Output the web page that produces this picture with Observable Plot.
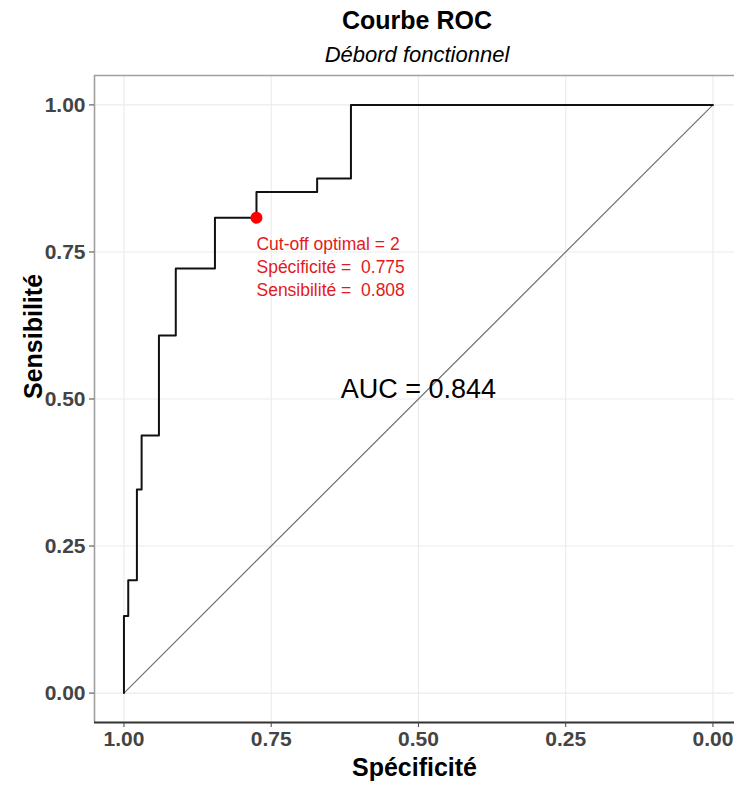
<!DOCTYPE html>
<html><head><meta charset="utf-8">
<script src="https://cdn.jsdelivr.net/npm/d3@7"></script>
<script src="https://cdn.jsdelivr.net/npm/@observablehq/plot@0.6"></script>
<style>
body{margin:0;background:#fff;font-family:"Liberation Sans",Arial,sans-serif;}
#wrap{width:734px;height:787px;overflow:hidden;}
#title{height:40px;line-height:40px;text-align:center;font-weight:bold;font-size:25px;color:#000;padding-left:100px;}
#subtitle{height:30px;line-height:30px;text-align:center;font-style:italic;font-size:22px;color:#000;padding-left:100px;}
svg{display:block;}
</style>
</head><body>
<div id="wrap">
<div id="title">Courbe ROC</div>
<div id="subtitle">Débord fonctionnel</div>
<div id="chart"></div>
</div>
<script>
// ROC curve vertices (specificity, sensitivity), drawn as steps
const specificite = [1.0, 0.9927, 0.978, 0.970, 0.9406, 0.912, 0.8455, 0.775, 0.672, 0.6146, 0.0];
const sensibilite = [0.0, 0.131, 0.192, 0.346, 0.438, 0.608, 0.722, 0.808, 0.852, 0.875, 1.0];
// reference diagonal
const diagSpec = [1, 0];
const diagSens = [0, 1];
// optimal cut-off
const cutoff = 2;
const optSpec = 0.775;
const optSens = 0.808;
// AUC label
const auc = 0.844;
const aucSpec = 0.50;
const aucSens = 0.516;
// ticks
const tickValues = [1.00, 0.75, 0.50, 0.25, 0.00];
const tickLabels = ["1.00", "0.75", "0.50", "0.25", "0.00"];
const xTitle = "Spécificité";
const yTitle = "Sensibilité";

const roc = specificite.map((s, i) => ({spec: s, sens: sensibilite[i]}));
const diag = diagSpec.map((s, i) => ({spec: s, sens: diagSens[i]}));
const annot = [
  `Cut-off optimal = ${cutoff}`,
  `Spécificité = \u00a0${optSpec.toFixed(3)}`,
  `Sensibilité = \u00a0${optSens.toFixed(3)}`
].join("\n");

const xDomain = [1.05, -0.0366];
const yDomain = [-0.05, 1.05];
const fmt = d => tickLabels[tickValues.indexOf(d)];
const font = "Liberation Sans, Arial, sans-serif";

const plot = Plot.plot({
  width: 734,
  height: 717,
  marginTop: 5,
  marginBottom: 65,
  marginLeft: 94,
  marginRight: 0,
  style: {fontFamily: font, fontSize: "21px", background: "#fff", overflow: "visible"},
  x: {domain: xDomain},
  y: {domain: yDomain},
  marks: [
    Plot.gridX(tickValues, {stroke: "#ebebeb", strokeOpacity: 1, strokeWidth: 1.1}),
    Plot.gridY(tickValues, {stroke: "#ebebeb", strokeOpacity: 1, strokeWidth: 1.1}),
    Plot.ruleY([yDomain[1]], {stroke: "#a0a0a0", strokeWidth: 1.6}),
    Plot.ruleX([xDomain[0]], {stroke: "#a0a0a0", strokeWidth: 1.6}),
    Plot.ruleY([yDomain[0]], {stroke: "#333", strokeWidth: 2.2}),
    Plot.axisX(tickValues, {tickSize: 5, tickPadding: 4, tickFormat: fmt, label: null,
      fontSize: 21, fontWeight: "bold", fill: "#444", stroke: "#444"}),
    Plot.axisY(tickValues, {tickSize: 5, tickPadding: 4, tickFormat: fmt, label: null,
      fontSize: 21, fontWeight: "bold", fill: "#444", stroke: "#444"}),
    Plot.line(diag, {x: "spec", y: "sens", stroke: "#707070", strokeWidth: 1.2}),
    Plot.line(roc, {x: "spec", y: "sens", curve: "step-before", stroke: "#111", strokeWidth: 2}),
    Plot.dot([{spec: optSpec, sens: optSens}], {x: "spec", y: "sens", r: 6, fill: "#ff0000", stroke: "none"}),
    Plot.text([{spec: optSpec, sens: optSens}], {x: "spec", y: "sens", text: () => annot,
      textAnchor: "start", lineAnchor: "top", dy: 16, lineHeight: 1.31, fontSize: 17.5, fill: "#e31a1c"}),
    Plot.text([{spec: aucSpec, sens: aucSens}], {x: "spec", y: "sens", text: () => `AUC = ${auc}`,
      fontSize: 27, fill: "#000"}),
    Plot.text([xTitle], {frameAnchor: "bottom", dy: 53, fontSize: 25, fontWeight: "bold", fill: "#000"}),
    Plot.text([yTitle], {frameAnchor: "left", dx: -61, rotate: -90, fontSize: 25, fontWeight: "bold", fill: "#000"})
  ]
});
document.getElementById("chart").appendChild(plot);
</script>
</body></html>
